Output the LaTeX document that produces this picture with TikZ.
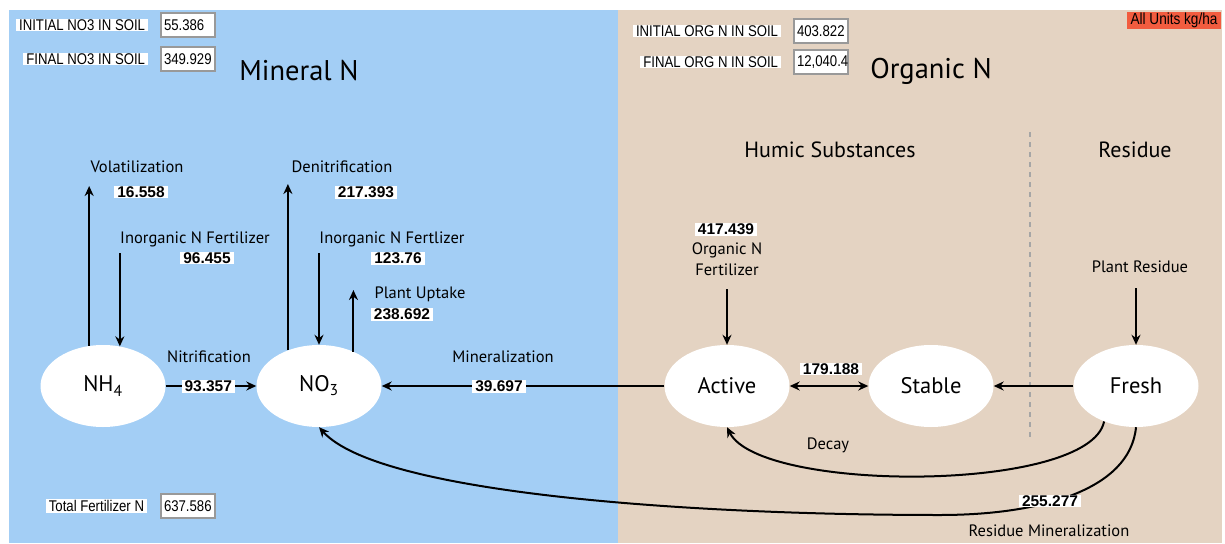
\documentclass[tikz,border=0pt]{standalone}
\usepackage{fontspec}
\setmainfont{PT Sans}
\newfontfamily\uifont[FakeStretch=0.85]{Liberation Sans}
\newfontfamily\numfont{Liberation Sans}
\usetikzlibrary{shapes.geometric,arrows.meta,positioning}

\definecolor{mineralblue}{RGB}{163,206,245}
\definecolor{organictan}{RGB}{228,211,194}
\definecolor{unitred}{RGB}{242,92,63}

\tikzset{
  pool/.style={ellipse,fill=white,minimum width=125pt,minimum height=82pt,inner sep=0pt,
    font=\fontsize{22.5}{26}\selectfont},
  flow/.style={->,line width=2pt},
  lbl/.style={inner sep=0pt,font=\fontsize{16.5}{21}\selectfont},
  head/.style={inner sep=0pt,font=\fontsize{28.5}{33}\selectfont},
  subhead/.style={inner sep=0pt,font=\fontsize{22}{26}\selectfont},
  val/.style={fill=white,inner xsep=3pt,inner ysep=1pt,
    font=\numfont\bfseries\fontsize{15.5}{17}\selectfont},
  formlbl/.style={fill=white,inner xsep=3pt,inner ysep=1pt,
    font=\uifont\fontsize{15.5}{17}\selectfont},
  formval/.style={draw=gray!80,fill=white,line width=1.5pt,minimum height=24pt,
    text width=48pt,inner xsep=3pt,align=left,font=\uifont\fontsize{15.5}{17}\selectfont},
}

\begin{document}
\begin{tikzpicture}[x=1pt,y=-1pt,>={Stealth[length=10pt,width=9pt]}]
\useasboundingbox (0,0) rectangle (1225,543);
\fill[white] (0,0) rectangle (1225,543);
\fill[mineralblue] (9,10) rectangle (618,543);
\fill[organictan] (618,10) rectangle (1222,543);

% soil totals
\node[formval] (ino3) at (188,25) {55.386};
\node[formlbl,left=12pt of ino3] {INITIAL NO3 IN SOIL};
\node[formval] (fno3) at (188,59) {349.929};
\node[formlbl,left=12pt of fno3] {FINAL NO3 IN SOIL};
\node[formval] (iorg) at (821,31) {403.822};
\node[formlbl,left=12pt of iorg] {INITIAL ORG N IN SOIL};
\node[formval] (forg) at (821,62) {12,040.4};
\node[formlbl,left=12pt of forg] {FINAL ORG N IN SOIL};
\node[formval] (totfert) at (188,506) {637.586};
\node[formlbl,left=13pt of totfert] {Total Fertilizer N};
\node[fill=unitred,inner xsep=4pt,inner ysep=1pt,font=\uifont\fontsize{16}{17}\selectfont]
  (units) at (1174,20.5) {All Units kg/ha};

\node[head] (mineral) at (299,71) {Mineral N};
\node[head] (organic) at (931,71) {Organic N};
\node[subhead] (humic) at (830,150) {Humic Substances};
\node[subhead] (residue) at (1135,150) {Residue};
\draw[gray!70,line width=1.5pt,dash pattern=on 5pt off 5pt] (1030,132) -- (1030,440);

% pools
\node[pool] (nh) at (103,386) {NH\textsubscript{4}};
\node[pool] (no) at (319,386) {NO\textsubscript{3}};
\node[pool] (active) at (727,386) {Active};
\node[pool] (stable) at (931,386) {Stable};
\node[pool] (fresh) at (1136,386) {Fresh};

% free ends
\coordinate (voltop) at (nh.109 |- 0,186);
\coordinate (infnh) at (nh.67 |- 0,253);
\coordinate (dentop) at (no.131 |- 0,184);
\coordinate (infno) at (no.north |- 0,253);
\coordinate (uptop) at (no.45 |- 0,290);
\coordinate (orgfert) at (727,289);
\coordinate (plres) at (1136,288);

% mineral side
\draw[flow] (nh.109) -- (voltop);
\node[lbl] at (137,167) {Volatilization};
\node[val] at (141,192) {16.558};
\draw[flow] (infnh) -- (nh.67);
\node[lbl] at (195,239) {Inorganic N Fertilizer};
\node[val] at (207,258) {96.455};
\draw[flow] (nh.east) -- (no.west)
  node[val,pos=0.47] {93.357};
\node[lbl] at (209,357) {Nitrification};
\draw[flow] (no.131) -- (dentop);
\node[lbl] at (342,167) {Denitrification};
\node[val] at (366,192) {217.393};
\draw[flow] (infno) -- (no.north);
\node[lbl] at (392,239) {Inorganic N Fertlizer};
\node[val] at (398,258) {123.76};
\draw[flow] (no.45) -- (uptop);
\node[lbl] at (420,294) {Plant Uptake};
\node[val] at (402,314) {238.692};
\draw[flow] (active.west) -- (no.east)
  node[val,pos=0.585] {39.697};
\node[lbl] at (503,357) {Mineralization};

% organic side
\node[val] at (726,229) {417.439};
\node[lbl,align=center] at (727,259) {Organic N\\Fertilizer};
\draw[flow] (orgfert) -- (active.north);
\draw[<->,line width=2pt] (active.east) -- (stable.west);
\node[val] at (831,369) {179.188};
\draw[flow] (fresh.west) -- (stable.east);
\node[lbl] at (1140,267) {Plant Residue};
\draw[flow] (plres) -- (fresh.north);
\draw[flow] (fresh.228) .. controls (1090,493) and (760,493) .. (active.south);
\node[lbl] at (828,445) {Decay};
\draw[flow] (fresh.south) .. controls (1130,490) and (1040,515) .. (940,515)
  .. controls (700,515) and (380,495) .. (no.south);
\node[val] at (1050,501) {255.277};
\node[lbl] at (1049,531) {Residue Mineralization};
\end{tikzpicture}
\end{document}
